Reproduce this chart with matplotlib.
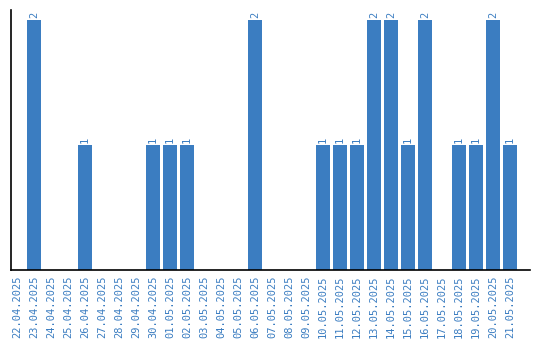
import matplotlib
matplotlib.use("Agg")
import matplotlib.pyplot as plt

dates = ["22.04.2025","23.04.2025","24.04.2025","25.04.2025","26.04.2025","27.04.2025",
         "28.04.2025","29.04.2025","30.04.2025","01.05.2025","02.05.2025","03.05.2025",
         "04.05.2025","05.05.2025","06.05.2025","07.05.2025","08.05.2025","09.05.2025",
         "10.05.2025","11.05.2025","12.05.2025","13.05.2025","14.05.2025","15.05.2025",
         "16.05.2025","17.05.2025","18.05.2025","19.05.2025","20.05.2025","21.05.2025"]
counts = [0,2,0,0,1,0,0,0,1,1,1,0,0,0,2,0,0,0,1,1,1,2,2,1,2,0,1,1,2,1]

blue = "#3b7dc1"
fig = plt.figure(figsize=(5.4, 3.4), dpi=100)
ax = fig.add_axes([11/540, 70/340, 519/540, 260/340])
x = list(range(len(dates)))
bars = ax.bar(x, counts, width=0.82, color=blue)
for xi, c in zip(x, counts):
    if c > 0:
        ax.text(xi, c + 0.02, str(c), rotation=90, ha="center", va="bottom",
                color=blue, fontsize=7.5, family="DejaVu Sans Mono")
ax.set_xlim(-0.35, 30.18)
ax.set_ylim(0, 2.08)
ax.set_xticks(x)
ax.set_xticklabels(dates, rotation=90, color=blue, fontsize=7.5, family="DejaVu Sans Mono")
ax.tick_params(axis="x", length=0, pad=4)
ax.set_yticks([])
for s in ["top", "right"]:
    ax.spines[s].set_visible(False)
ax.spines["left"].set_linewidth(1.2)
ax.spines["bottom"].set_linewidth(1.2)
fig.savefig("out.png", dpi=100)
